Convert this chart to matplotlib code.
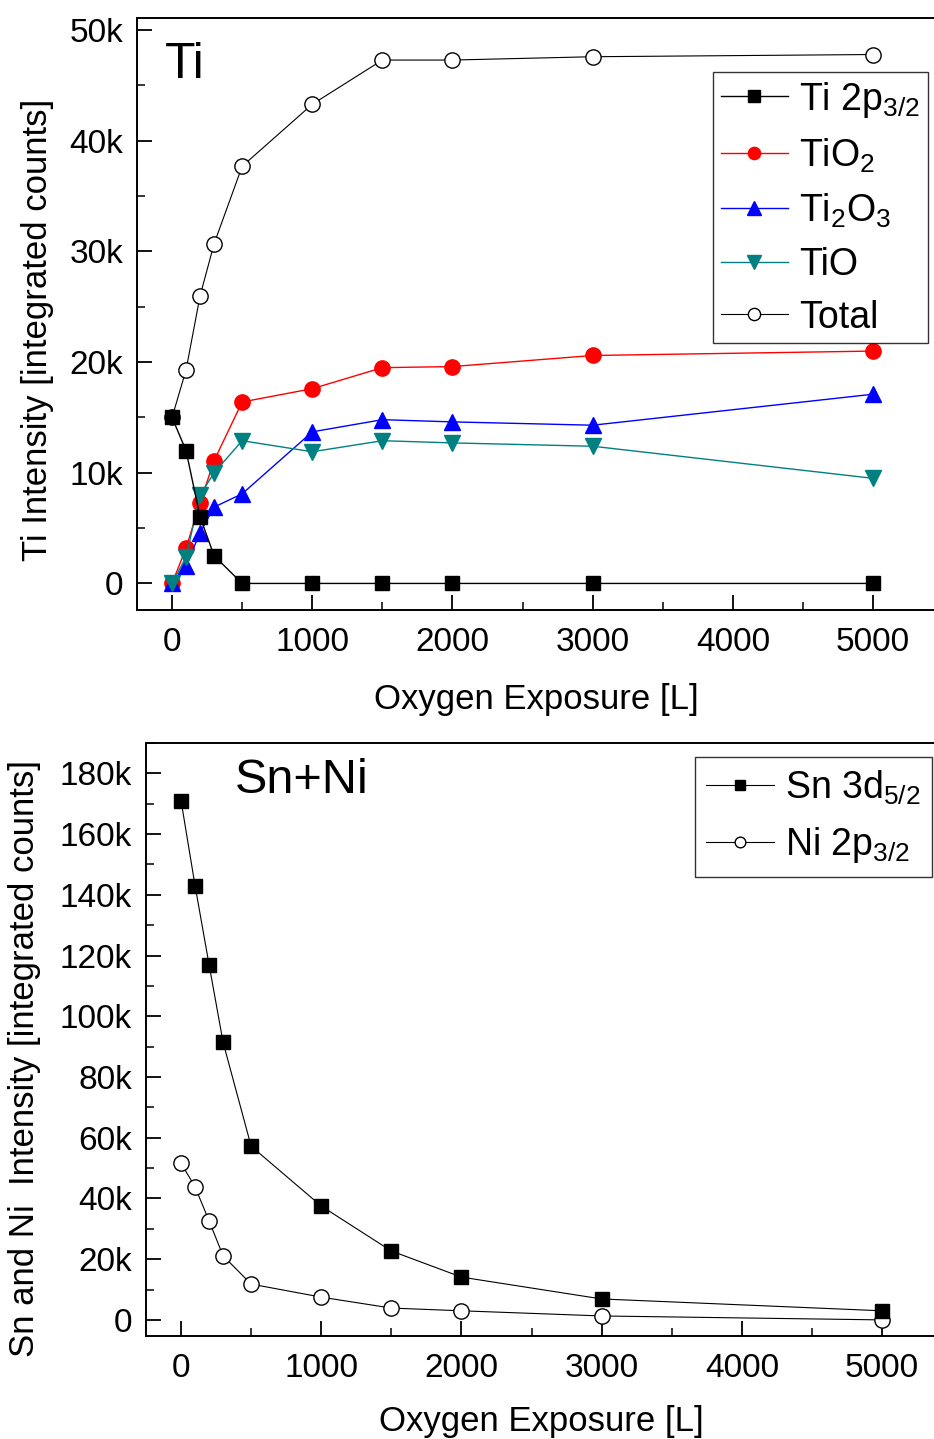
import matplotlib
matplotlib.use("Agg")
import matplotlib.pyplot as plt
from matplotlib.ticker import MultipleLocator, FuncFormatter

plt.rcParams['font.family'] = ['Liberation Sans', 'DejaVu Sans']
plt.rcParams['mathtext.fontset'] = 'custom'
plt.rcParams['mathtext.rm'] = 'Liberation Sans'
plt.rcParams['mathtext.it'] = 'Liberation Sans:italic'
plt.rcParams['mathtext.bf'] = 'Liberation Sans:bold'

# oxygen exposure in Langmuir
exposure = [0, 100, 200, 300, 500, 1000, 1500, 2000, 3000, 5000]

# Ti components (integrated counts)
ti_metal = [15000, 12000, 6000, 2500, 0, 0, 0, 0, 0, 0]
tio2 = [0, 3200, 7300, 11100, 16400, 17600, 19500, 19600, 20600, 21000]
ti2o3 = [0, 1600, 4600, 6900, 8100, 13700, 14800, 14600, 14300, 17100]
tio = [0, 2400, 8000, 10000, 12900, 11900, 12900, 12700, 12400, 9500]
ti_total = [15000, 19300, 26000, 30700, 37700, 43300, 47300, 47300, 47600, 47800]

# substrate signals
sn_3d = [171000, 143000, 117000, 91400, 57200, 37500, 22700, 14100, 6900, 3000]
ni_2p = [51600, 43800, 32600, 21100, 11800, 7500, 3900, 3000, 1300, 0]

W, H = 934, 1439
fig = plt.figure(figsize=(W / 100, H / 100), dpi=100)


def kfmt(v, pos):
    if abs(v) < 1e-9:
        return "0"
    return "%dk" % round(v / 1000)


def style_axis(ax, ymajor, yminor):
    ax.xaxis.set_major_locator(MultipleLocator(1000))
    ax.xaxis.set_minor_locator(MultipleLocator(500))
    ax.yaxis.set_major_locator(MultipleLocator(ymajor))
    ax.yaxis.set_minor_locator(MultipleLocator(yminor))
    ax.yaxis.set_major_formatter(FuncFormatter(kfmt))
    ax.tick_params(which='major', direction='in', length=11, width=1.3,
                   labelsize=24)
    ax.tick_params(axis='x', which='major', pad=12)
    ax.tick_params(axis='y', which='major', pad=10)
    ax.tick_params(which='minor', direction='in', length=6, width=1.1)
    ax.tick_params(top=False, right=False, which='both')
    for s in ax.spines.values():
        s.set_linewidth(1.4)


# ---- Ti panel ----
ax1 = fig.add_axes([137 / W, 1 - 610 / H, (936 - 137) / W, (610 - 18) / H])
ax1.plot(exposure, ti_total, '-o', color='black', lw=0.8, ms=11,
         mfc='white', mec='black', mew=1.0, label='Total')
ax1.plot(exposure, tio2, '-o', color='#ff0000', lw=1.0, ms=11,
         label=r'TiO$_2$')
ax1.plot(exposure, ti2o3, '-^', color='#0000ff', lw=1.0, ms=12,
         label=r'Ti$_2$O$_3$')
ax1.plot(exposure, tio, '-v', color='#008080', lw=1.0, ms=12,
         label='TiO')
ax1.plot(exposure, ti_metal, '-s', color='black', lw=1.0, ms=10,
         label=r'Ti 2p$_{3/2}$')
ax1.set_xlim(-250, 5449)
ax1.set_ylim(-2400, 51100)
style_axis(ax1, 10000, 5000)
ax1.set_xlabel('Oxygen Exposure [L]', fontsize=25, labelpad=18)
ax1.set_ylabel('Ti Intensity [integrated counts]', fontsize=25)
ax1.yaxis.set_label_coords((54 - 137) / 799, 0.473)
ax1.text(0.035, 0.96, 'Ti', transform=ax1.transAxes, fontsize=36,
         va='top', ha='left')
h, l = ax1.get_legend_handles_labels()
order = [4, 1, 2, 3, 0]
leg1 = ax1.legend([h[i] for i in order], [l[i] for i in order],
                  loc='upper left', bbox_to_anchor=((713 - 137) / 799, 1 - (72 - 18) / 592),
                  fontsize=27, frameon=True, fancybox=False, edgecolor='black',
                  handlelength=1.8, handletextpad=0.3, labelspacing=0.45,
                  borderpad=0.2, borderaxespad=0, markerscale=0.8)
leg1.get_frame().set_linewidth(1.0)

# ---- Sn + Ni panel ----
ax2 = fig.add_axes([146 / W, 1 - 1336 / H, (936 - 146) / W, (1336 - 743) / H])
ax2.plot(exposure, ni_2p, '-o', color='black', lw=0.8, ms=11,
         mfc='white', mec='black', mew=1.0, label=r'Ni 2p$_{3/2}$')
ax2.plot(exposure, sn_3d, '-s', color='black', lw=0.8, ms=10,
         label=r'Sn 3d$_{5/2}$')
ax2.set_xlim(-250, 5385)
ax2.set_ylim(-5300, 190000)
style_axis(ax2, 20000, 10000)
ax2.set_xlabel('Oxygen Exposure [L]', fontsize=25, labelpad=15)
ax2.set_ylabel('Sn and Ni  Intensity [integrated counts]', fontsize=25)
ax2.yaxis.set_label_coords((41 - 146) / 790, 0.468)
ax2.text(0.113, 0.975, 'Sn+Ni', transform=ax2.transAxes, fontsize=35,
         va='top', ha='left')
h, l = ax2.get_legend_handles_labels()
leg2 = ax2.legend([h[1], h[0]], [l[1], l[0]],
                  loc='upper left', bbox_to_anchor=((695 - 146) / 790, 1 - (757 - 743) / 593),
                  fontsize=27, frameon=True, fancybox=False, edgecolor='black',
                  handlelength=1.8, handletextpad=0.3, labelspacing=0.5,
                  borderpad=0.3, borderaxespad=0, markerscale=0.7)
leg2.get_frame().set_linewidth(1.0)

fig.savefig('out.png', dpi=100, facecolor='white')
